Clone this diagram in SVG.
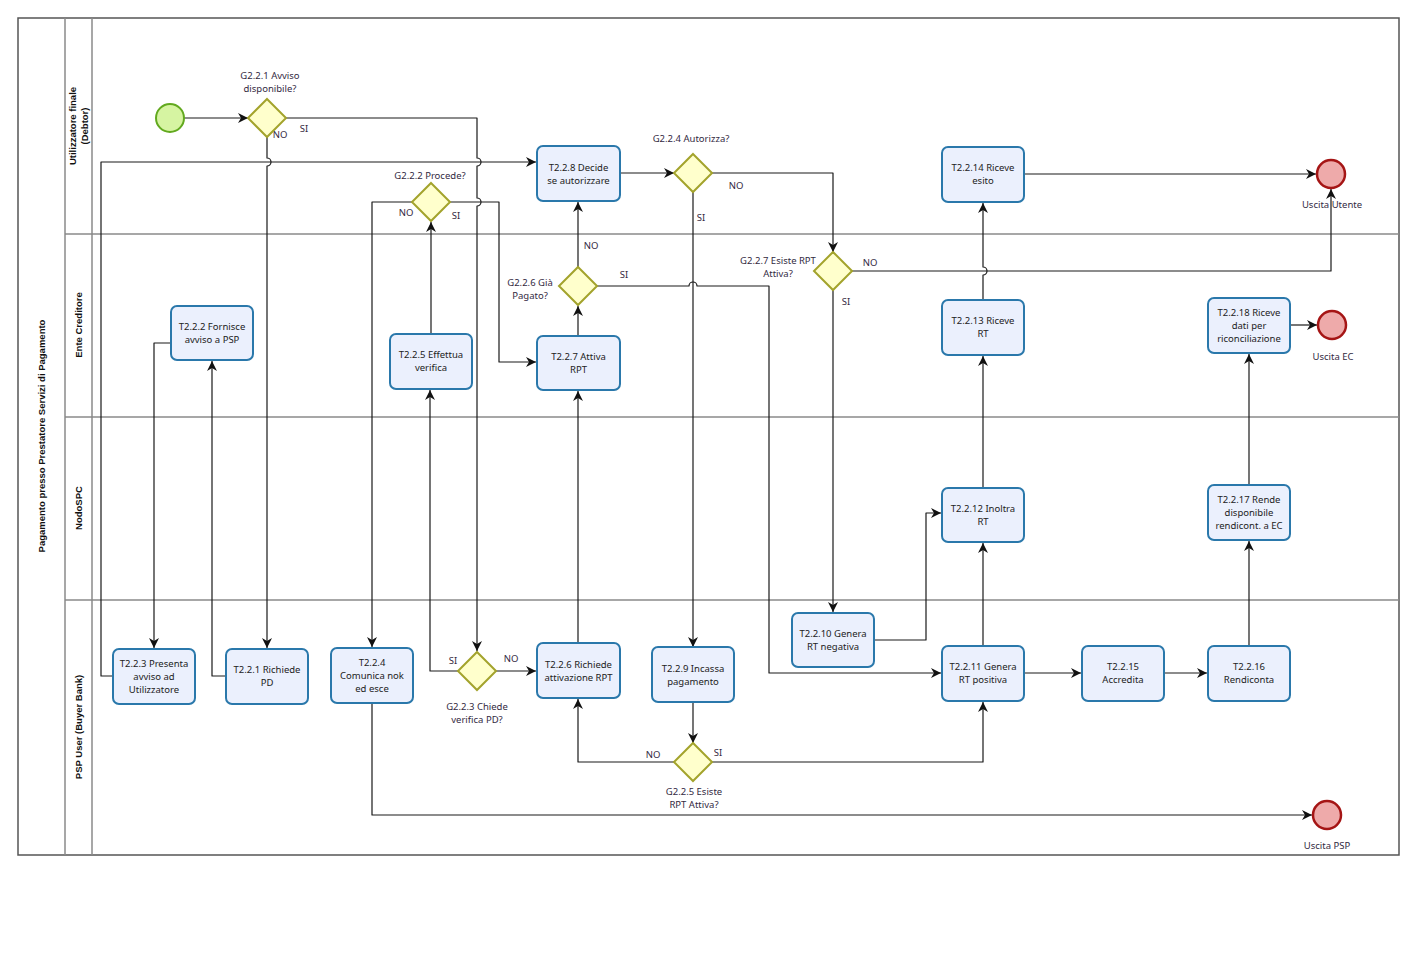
<svg xmlns="http://www.w3.org/2000/svg" width="1419" height="956" viewBox="0 0 1419 956">
<style>
.pool{fill:#fff;stroke:#555;stroke-width:1.5}
.lane{stroke:#8a8a8a;stroke-width:1.5;fill:none}
.hdr{font-family:"Liberation Sans",Arial,sans-serif;font-weight:bold;font-size:9.5px;fill:#111;text-anchor:middle}
.task rect{fill:#ebf0fd;stroke:#2a78ab;stroke-width:2}
.t{font-family:"Noto Sans","Open Sans",sans-serif;font-size:9.5px;fill:#222;text-anchor:middle}
.gw polygon{fill:#ffffcc;stroke:#a3a32c;stroke-width:2}
.lbl{font-family:"Noto Sans","Open Sans",sans-serif;font-size:9.5px;fill:#332a3f;text-anchor:middle}
.start circle{fill:#d6f4a2;stroke:#62a91f;stroke-width:2}
.end circle{fill:#eeaaaa;stroke:#a51515;stroke-width:2.5}
.e path{fill:none;stroke:#1a1a1a;stroke-width:1.2;stroke-linejoin:round}
.e path.a{marker-end:url(#arr)}
</style>
<defs>
<marker id="arr" markerUnits="userSpaceOnUse" markerWidth="11" markerHeight="10" refX="10" refY="5" orient="auto">
<path d="M0,0 L10,5 L0,10 L3,5 z" fill="#111"/>
</marker>
</defs>
<g id="pool">
<rect class="pool" x="18" y="18" width="1381" height="837"/>
<path class="lane" d="M65,18 V855 M92,18 V855 M65,234 H1399 M65,417 H1399 M65,600 H1399"/>
<text class="hdr" transform="translate(44.5,436) rotate(-90)">Pagamento presso Prestatore Servizi di Pagamento</text>
<text class="hdr" transform="translate(75.5,126) rotate(-90)">Utilizzatore finale<tspan x="0" dy="12">(Debtor)</tspan></text>
<text class="hdr" transform="translate(81.5,325) rotate(-90)">Ente Creditore</text>
<text class="hdr" transform="translate(81.5,508) rotate(-90)">NodoSPC</text>
<text class="hdr" transform="translate(81.5,727) rotate(-90)">PSP User (Buyer Bank)</text>
</g>
<g id="connectors" class="e">
<path class="a" d="M184,118 H248"/>
<path class="a" d="M286,118 H477 V158 a4,4 0 0 1 0,8 V198 a4,4 0 0 1 0,8 V651"/>
<path class="a" d="M267,137 V158 a4,4 0 0 1 0,8 V648"/>
<path class="a" d="M226,676 H212 V361"/>
<path class="a" d="M171,343 H154 V648"/>
<path class="a" d="M113,676 H101 V162 H536"/>
<path class="a" d="M620,173 H674"/>
<path class="a" d="M712,173 H833 V252"/>
<path class="a" d="M693,192 V647"/>
<path class="a" d="M597,286 H689 a4,4 0 0 1 8,0 H769 V673 H941"/>
<path class="a" d="M852,271 H1331 V189"/>
<path class="a" d="M833,290 V612"/>
<path class="a" d="M874,640 H926 V513 H941"/>
<path class="a" d="M983,646 V543"/>
<path class="a" d="M983,488 V356"/>
<path class="a" d="M983,300 V275 a4,4 0 0 0 0,-8 V203"/>
<path class="a" d="M1024,174 H1316"/>
<path class="a" d="M1024,673 H1081"/>
<path class="a" d="M1164,673 H1207"/>
<path class="a" d="M1249,646 V541"/>
<path class="a" d="M1249,485 V354"/>
<path class="a" d="M1290,325 H1317"/>
<path class="a" d="M372,703 V815 H1312"/>
<path class="a" d="M412,202 H372 V647"/>
<path class="a" d="M450,202 H499 V362 H536"/>
<path class="a" d="M431,334 V222"/>
<path class="a" d="M458,671 H430 V390"/>
<path class="a" d="M496,671 H536"/>
<path class="a" d="M578,643 V391"/>
<path class="a" d="M578,336 V306"/>
<path class="a" d="M578,267 V202"/>
<path class="a" d="M693,702 V743"/>
<path class="a" d="M674,762 H578 V699"/>
<path class="a" d="M712,762 H983 V702"/>
</g>
<g id="edge-labels" class="lbl">
<text x="280" y="137.5">NO</text><text x="304" y="131.5">SI</text>
<text x="406" y="215.5">NO</text><text x="456" y="218.5">SI</text>
<text x="736" y="188.5">NO</text><text x="701" y="220.5">SI</text>
<text x="591" y="248.5">NO</text><text x="624" y="277.5">SI</text>
<text x="870" y="265.5">NO</text><text x="846" y="304.5">SI</text>
<text x="453" y="663.5">SI</text><text x="511" y="661.5">NO</text>
<text x="653" y="757.5">NO</text><text x="718" y="755.5">SI</text>
</g>
<g id="start" class="start"><circle cx="170" cy="118" r="14"/></g>
<g id="G2.2.1" class="gw"><polygon points="267,99 286,118 267,137 248,118"/><text class="lbl" x="270" y="78.5">G2.2.1 Avviso</text><text class="lbl" x="270" y="91.5">disponibile?</text></g>
<g id="G2.2.2" class="gw"><polygon points="431,183 450,202 431,221 412,202"/><text class="lbl" x="430" y="178.5">G2.2.2 Procede?</text></g>
<g id="G2.2.4" class="gw"><polygon points="693,154 712,173 693,192 674,173"/><text class="lbl" x="691" y="141.5">G2.2.4 Autorizza?</text></g>
<g id="G2.2.6" class="gw"><polygon points="578,267 597,286 578,305 559,286"/><text class="lbl" x="530" y="285.5">G2.2.6 Già</text><text class="lbl" x="530" y="298.5">Pagato?</text></g>
<g id="G2.2.7" class="gw"><polygon points="833,252 852,271 833,290 814,271"/><text class="lbl" x="778" y="263.5">G2.2.7 Esiste RPT</text><text class="lbl" x="778" y="276.5">Attiva?</text></g>
<g id="G2.2.3" class="gw"><polygon points="477,652 496,671 477,690 458,671"/><text class="lbl" x="477" y="709.5">G2.2.3 Chiede</text><text class="lbl" x="477" y="722.5">verifica PD?</text></g>
<g id="G2.2.5" class="gw"><polygon points="693,743 712,762 693,781 674,762"/><text class="lbl" x="694" y="794.5">G2.2.5 Esiste</text><text class="lbl" x="694" y="807.5">RPT Attiva?</text></g>
<g id="T2.2.8" class="task"><rect x="537" y="146" width="83" height="55" rx="6"/><text class="t" x="578.5" y="170.5">T2.2.8 Decide</text><text class="t" x="578.5" y="183.5">se autorizzare</text></g>
<g id="T2.2.14" class="task"><rect x="942" y="147" width="82" height="55" rx="6"/><text class="t" x="983" y="171">T2.2.14 Riceve</text><text class="t" x="983" y="184">esito</text></g>
<g id="T2.2.2" class="task"><rect x="171" y="306" width="82" height="54" rx="6"/><text class="t" x="212" y="329.5">T2.2.2 Fornisce</text><text class="t" x="212" y="342.5">avviso a PSP</text></g>
<g id="T2.2.5" class="task"><rect x="390" y="334" width="82" height="55" rx="6"/><text class="t" x="431" y="357.5">T2.2.5 Effettua</text><text class="t" x="431" y="370.5">verifica</text></g>
<g id="T2.2.7" class="task"><rect x="537" y="336" width="83" height="54" rx="6"/><text class="t" x="578.5" y="359.5">T2.2.7 Attiva</text><text class="t" x="578.5" y="372.5">RPT</text></g>
<g id="T2.2.13" class="task"><rect x="942" y="300" width="82" height="55" rx="6"/><text class="t" x="983" y="324">T2.2.13 Riceve</text><text class="t" x="983" y="337">RT</text></g>
<g id="T2.2.18" class="task"><rect x="1208" y="298" width="82" height="55" rx="6"/><text class="t" x="1249" y="315.5">T2.2.18 Riceve</text><text class="t" x="1249" y="328.5">dati per</text><text class="t" x="1249" y="341.5">riconciliazione</text></g>
<g id="T2.2.12" class="task"><rect x="942" y="488" width="82" height="54" rx="6"/><text class="t" x="983" y="511.5">T2.2.12 Inoltra</text><text class="t" x="983" y="524.5">RT</text></g>
<g id="T2.2.17" class="task"><rect x="1208" y="485" width="82" height="55" rx="6"/><text class="t" x="1249" y="502.5">T2.2.17 Rende</text><text class="t" x="1249" y="515.5">disponibile</text><text class="t" x="1249" y="528.5">rendicont. a EC</text></g>
<g id="T2.2.3" class="task"><rect x="113" y="649" width="82" height="55" rx="6"/><text class="t" x="154" y="666.5">T2.2.3 Presenta</text><text class="t" x="154" y="679.5">avviso ad</text><text class="t" x="154" y="692.5">Utilizzatore</text></g>
<g id="T2.2.1" class="task"><rect x="226" y="649" width="82" height="55" rx="6"/><text class="t" x="267" y="673">T2.2.1 Richiede</text><text class="t" x="267" y="686">PD</text></g>
<g id="T2.2.4" class="task"><rect x="331" y="648" width="82" height="55" rx="6"/><text class="t" x="372" y="665.5">T2.2.4</text><text class="t" x="372" y="678.5">Comunica nok</text><text class="t" x="372" y="691.5">ed esce</text></g>
<g id="T2.2.6" class="task"><rect x="537" y="643" width="83" height="55" rx="6"/><text class="t" x="578.5" y="667.5">T2.2.6 Richiede</text><text class="t" x="578.5" y="680.5">attivazione RPT</text></g>
<g id="T2.2.9" class="task"><rect x="652" y="647" width="82" height="55" rx="6"/><text class="t" x="693" y="671.5">T2.2.9 Incassa</text><text class="t" x="693" y="684.5">pagamento</text></g>
<g id="T2.2.10" class="task"><rect x="792" y="613" width="82" height="54" rx="6"/><text class="t" x="833" y="637">T2.2.10 Genera</text><text class="t" x="833" y="650">RT negativa</text></g>
<g id="T2.2.11" class="task"><rect x="942" y="646" width="82" height="55" rx="6"/><text class="t" x="983" y="670">T2.2.11 Genera</text><text class="t" x="983" y="683">RT positiva</text></g>
<g id="T2.2.15" class="task"><rect x="1082" y="646" width="82" height="55" rx="6"/><text class="t" x="1123" y="670">T2.2.15</text><text class="t" x="1123" y="683">Accredita</text></g>
<g id="T2.2.16" class="task"><rect x="1208" y="646" width="82" height="55" rx="6"/><text class="t" x="1249" y="670">T2.2.16</text><text class="t" x="1249" y="683">Rendiconta</text></g>
<g id="end-utente" class="end"><circle cx="1331" cy="174" r="14"/><text class="lbl" x="1332" y="207.5">Uscita Utente</text></g>
<g id="end-ec" class="end"><circle cx="1332" cy="325" r="14"/><text class="lbl" x="1333" y="359.5">Uscita EC</text></g>
<g id="end-psp" class="end"><circle cx="1327" cy="815" r="14"/><text class="lbl" x="1327" y="848.5">Uscita PSP</text></g>
</svg>
